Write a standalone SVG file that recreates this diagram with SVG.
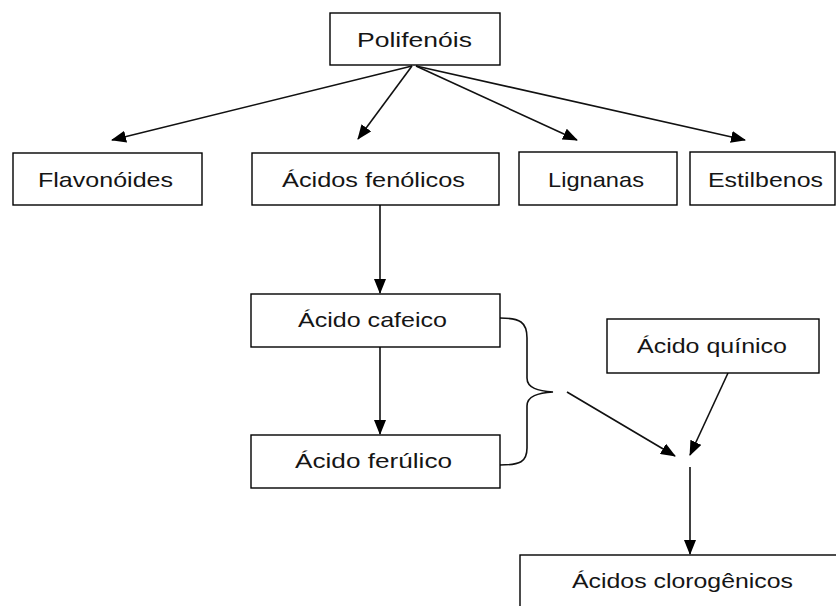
<svg xmlns="http://www.w3.org/2000/svg" width="836" height="606" viewBox="0 0 836 606">
<defs>
<marker id="ah" markerUnits="userSpaceOnUse" markerWidth="15" markerHeight="12" viewBox="0 0 15 12" refX="14" refY="6" orient="auto">
<path d="M0,0 L15,6 L0,12 Z" fill="#000"/>
</marker>
</defs>
<style>
.box{fill:#fff;stroke:#000;stroke-width:1.4}
.t{font-family:"Liberation Sans",Arial,sans-serif;font-size:21px;fill:#151515;text-anchor:middle}
.c{fill:none;stroke:#111;stroke-width:1.6}
</style>
<rect width="836" height="606" fill="#fff"/>
<g id="connectors">
<line class="c" x1="412" y1="66" x2="112" y2="140" marker-end="url(#ah)"/>
<line class="c" x1="412" y1="66" x2="358" y2="139" marker-end="url(#ah)"/>
<line class="c" x1="416" y1="66" x2="577" y2="140" marker-end="url(#ah)"/>
<line class="c" x1="416" y1="66" x2="745" y2="140" marker-end="url(#ah)"/>
<line class="c" x1="380" y1="205" x2="380" y2="293" marker-end="url(#ah)"/>
<line class="c" x1="380" y1="347" x2="380" y2="434" marker-end="url(#ah)"/>
<path class="c" d="M500,318 C520,318 527,322 527,338 L527,378 C527,388 538,391 553,392 C538,393 527,396 527,406 L527,448 C527,462 520,465 500,465"/>
<line class="c" x1="567" y1="392" x2="675" y2="456" marker-end="url(#ah)"/>
<line class="c" x1="728" y1="373" x2="690" y2="455" marker-end="url(#ah)"/>
<line class="c" x1="690" y1="467" x2="690" y2="554" marker-end="url(#ah)"/>
</g>
<g id="polifenois"><rect class="box" x="330" y="13" width="170" height="52"/><text class="t" x="414.5" y="47" textLength="115" lengthAdjust="spacingAndGlyphs">Polifenóis</text></g>
<g id="flavonoides"><rect class="box" x="13" y="153" width="189" height="52"/><text class="t" x="105.5" y="187" textLength="135" lengthAdjust="spacingAndGlyphs">Flavonóides</text></g>
<g id="acidos-fenolicos"><rect class="box" x="252" y="153" width="247" height="52"/><text class="t" x="373.5" y="187" textLength="183" lengthAdjust="spacingAndGlyphs">Ácidos fenólicos</text></g>
<g id="lignanas"><rect class="box" x="519" y="152" width="158" height="53"/><text class="t" x="596" y="187" textLength="96" lengthAdjust="spacingAndGlyphs">Lignanas</text></g>
<g id="estilbenos"><rect class="box" x="690" y="152" width="145" height="53"/><text class="t" x="765.5" y="187" textLength="115" lengthAdjust="spacingAndGlyphs">Estilbenos</text></g>
<g id="acido-cafeico"><rect class="box" x="251" y="294" width="249" height="53"/><text class="t" x="372.5" y="327" textLength="149" lengthAdjust="spacingAndGlyphs">Ácido cafeico</text></g>
<g id="acido-ferulico"><rect class="box" x="251" y="435" width="249" height="53"/><text class="t" x="373.5" y="468" textLength="157" lengthAdjust="spacingAndGlyphs">Ácido ferúlico</text></g>
<g id="acido-quinico"><rect class="box" x="607" y="319" width="212" height="54"/><text class="t" x="712" y="353" textLength="150" lengthAdjust="spacingAndGlyphs">Ácido quínico</text></g>
<g id="acidos-clorogenicos"><rect class="box" x="520" y="555" width="340" height="80"/><text class="t" x="682.5" y="588" textLength="221" lengthAdjust="spacingAndGlyphs">Ácidos clorogênicos</text></g>
</svg>
